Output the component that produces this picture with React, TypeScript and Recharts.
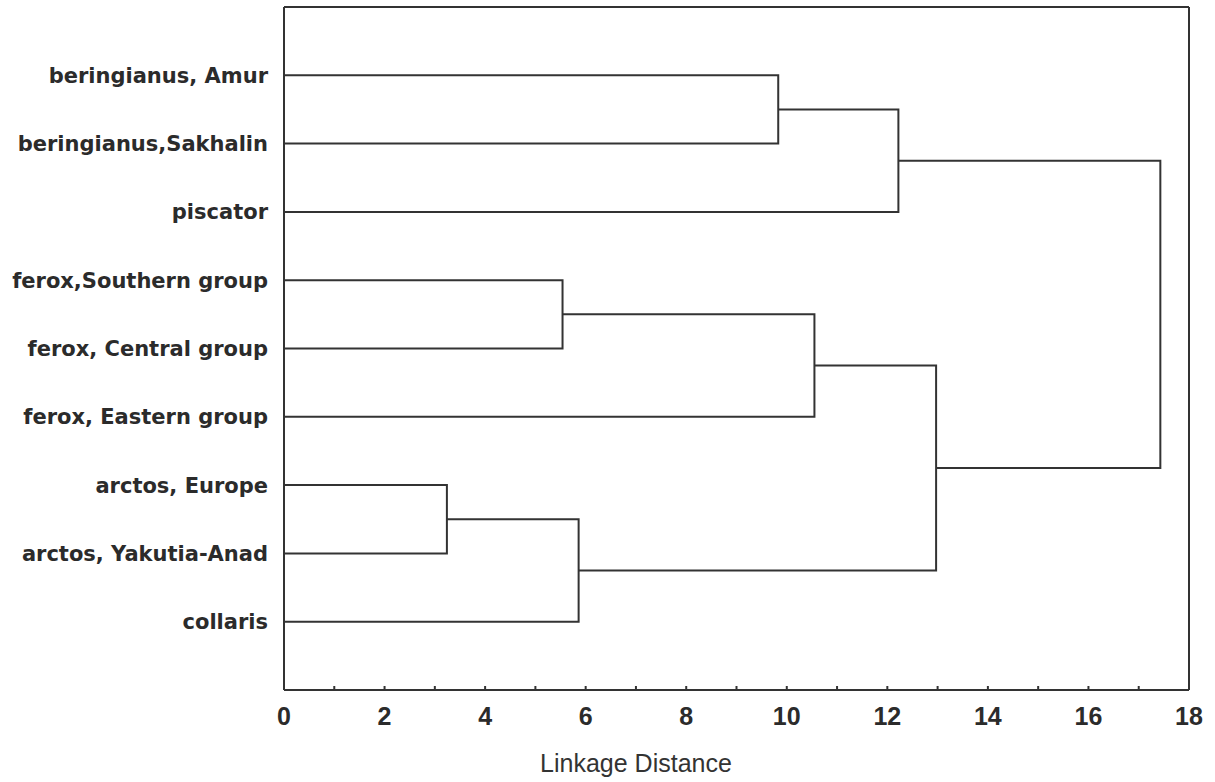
import { LineChart, Line, XAxis, YAxis, Label } from 'recharts'

// leaves, top to bottom
const leaves = [
  'beringianus, Amur',
  'beringianus,Sakhalin',
  'piscator',
  'ferox,Southern group',
  'ferox, Central group',
  'ferox, Eastern group',
  'arctos, Europe',
  'arctos, Yakutia-Anad',
  'collaris',
]

// joins: indexes < leaves.length are leaves, then joined clusters in order
const joinLeft = [0, 9, 3, 11, 6, 13, 12, 10]
const joinRight = [1, 2, 4, 5, 7, 8, 14, 15]
const joinDistance = [9.83, 12.22, 5.54, 10.55, 3.24, 5.86, 12.97, 17.43]

const xTicks = [0, 1, 2, 3, 4, 5, 6, 7, 8, 9, 10, 11, 12, 13, 14, 15, 16, 17, 18]
const xTopTicks = [0, 2, 4, 6, 8, 10, 12, 14, 16, 18]
const yTicks = [1, 2, 3, 4, 5, 6, 7, 8, 9]

type Pt = { x: number; y: number }

function buildLinks() {
  const nodes: Pt[] = leaves.map((_, i) => ({ x: 0, y: i + 1 }))
  const links: Pt[][] = []
  joinDistance.forEach((d, i) => {
    const a = nodes[joinLeft[i]]
    const b = nodes[joinRight[i]]
    links.push([
      { x: a.x, y: a.y },
      { x: d, y: a.y },
      { x: d, y: b.y },
      { x: b.x, y: b.y },
    ])
    nodes.push({ x: d, y: (a.y + b.y) / 2 })
  })
  return links
}

const ink = '#333333'

export default function App() {
  const links = buildLinks()

  return (
    <div style={{ position: 'absolute', left: 0, top: 0 }}>
      <LineChart
        width={1215}
        height={782}
        margin={{ top: 6, right: 25, bottom: 0, left: 0 }}
      >
        <XAxis
          xAxisId="top"
          orientation="top"
          type="number"
          domain={[0, 18]}
          ticks={xTopTicks}
          height={1}
          tickSize={-4}
          tickFormatter={() => ''}
          stroke={ink}
          strokeWidth={2}
        />
        <XAxis
          dataKey="x"
          type="number"
          domain={[0, 18]}
          ticks={xTicks}
          interval={0}
          height={92}
          tickSize={-4}
          tickMargin={21}
          tickFormatter={(v) => (v % 2 === 0 ? String(v) : '')}
          stroke={ink}
          strokeWidth={2}
          tick={{
            fill: '#2b2b2b',
            fontFamily: '"Liberation Sans", Arial, sans-serif',
            fontWeight: 'bold',
            fontSize: 25,
          }}
        >
          <Label
            content={(props: any) => {
              const vb = props.viewBox
              return (
                <text
                  x={636}
                  y={vb.y + vb.height - 10}
                  textAnchor="middle"
                  fill="#333"
                  fontFamily='"Liberation Sans", Arial, sans-serif'
                  fontSize={25}
                >
                  Linkage Distance
                </text>
              )
            }}
          />
        </XAxis>
        <YAxis
          dataKey="y"
          type="number"
          domain={[0, 10]}
          reversed
          ticks={yTicks}
          interval={0}
          width={284}
          tickLine={false}
          tickMargin={10}
          tickFormatter={(v) => leaves[v - 1] ?? ''}
          stroke={ink}
          strokeWidth={2}
          tick={{
            fill: '#2b2b2b',
            fontFamily: '"DejaVu Sans", sans-serif',
            fontWeight: 'bold',
            fontSize: 21,
          }}
        />
        <YAxis
          yAxisId="right"
          orientation="right"
          type="number"
          domain={[0, 10]}
          reversed
          ticks={yTicks}
          width={1}
          tickSize={-4}
          tickFormatter={() => ''}
          stroke={ink}
          strokeWidth={2}
        />
        {links.map((pts, i) => (
          <Line
            key={i}
            data={pts}
            dataKey="y"
            type="linear"
            stroke={ink}
            strokeWidth={2}
            dot={false}
            activeDot={false}
            isAnimationActive={false}
          />
        ))}
      </LineChart>
    </div>
  )
}
